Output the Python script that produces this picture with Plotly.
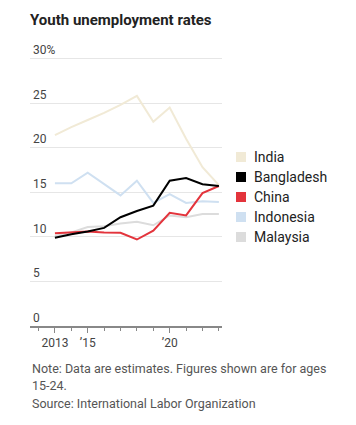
import plotly.graph_objects as go

years = list(range(2013, 2024))
india = [21.4, 22.3, 23.1, 23.9, 24.8, 25.8, 22.9, 24.5, 21.0, 17.8, 15.8]
bangladesh = [9.9, 10.3, 10.6, 11.0, 12.2, 12.9, 13.5, 16.3, 16.6, 15.9, 15.7]
china = [10.4, 10.5, 10.6, 10.5, 10.45, 9.7, 10.7, 12.7, 12.4, 14.9, 15.7]
indonesia = [16.0, 16.0, 17.2, 15.9, 14.65, 16.3, 13.8, 14.8, 13.8, 14.0, 13.9]
malaysia = [10.1, 10.5, 11.1, 11.2, 11.5, 11.7, 11.3, 12.4, 12.2, 12.55, 12.55]

series_names = ["India", "Bangladesh", "China", "Indonesia", "Malaysia"]
series_values = [india, bangladesh, china, indonesia, malaysia]
colors = ["#f1ead6", "#000000", "#e3343c", "#cfe0f1", "#dcdcdc"]
draw_order = ["Malaysia", "Indonesia", "India", "China", "Bangladesh"]

ytick_vals = [0, 5, 10, 15, 20, 25, 30]
ytick_text = ["0", "5", "10", "15", "20", "25", "30%"]
xtick_vals = [2013, 2015, 2020]
xtick_text = ["2013", "\u201915", "\u201920"]

note_lines = ["Note: Data are estimates. Figures shown are for ages",
              "15-24.",
              "Source: International Labor Organization"]

FONT = "Roboto"
W, H = 356, 425
ML, MR, MT, MB = 30, 134, 34, 99
plot_w = W - ML - MR
plot_h = H - MT - MB
px_per_unit = (H - MB - 58.5) / 30.0
y_top = plot_h / px_per_unit

fig = go.Figure()
lookup = dict(zip(series_names, zip(series_values, colors)))
for name in draw_order:
    vals, col = lookup[name]
    fig.add_trace(go.Scatter(x=years, y=vals, mode="lines", name=name,
                             line=dict(color=col, width=2), showlegend=False,
                             hoverinfo="skip"))

# legend built from annotations + keys
shapes = []
annotations = []
for i, (name, col) in enumerate(zip(series_names, colors)):
    cy_px = 157 + 20 * i
    yc = (H - MB - cy_px) / plot_h
    x0 = (236 - ML) / plot_w
    x1 = (246 - ML) / plot_w
    half = 5 / plot_h
    shapes.append(dict(type="rect", xref="paper", yref="paper", x0=x0, x1=x1,
                       y0=yc - half, y1=yc + half, fillcolor=col, line=dict(width=0)))
    annotations.append(dict(text=name, xref="paper", yref="paper",
                            x=(252 - ML) / plot_w, y=yc, xanchor="left", yanchor="middle",
                            showarrow=False, font=dict(family=FONT, size=14, color="#222")))

for j, line in enumerate(note_lines):
    cy_px = 368 + 17.5 * j
    annotations.append(dict(
        text=line, xref="paper", yref="paper", x=0, y=(H - MB - cy_px) / plot_h,
        xanchor="left", yanchor="middle", align="left", showarrow=False,
        font=dict(family=FONT, size=12.5, color="#555")))

fig.update_layout(
    width=W, height=H,
    margin=dict(l=ML, r=MR, t=MT, b=MB),
    paper_bgcolor="white", plot_bgcolor="white",
    title=dict(text="<b>Youth unemployment rates</b>", x=ML / W, xanchor="left",
               y=1 - 20 / H, yanchor="middle",
               font=dict(family=FONT, size=15, color="#222")),
    shapes=shapes, annotations=annotations, showlegend=False,
    xaxis=dict(range=[2011.48, 2023.19], tickvals=xtick_vals, ticktext=xtick_text,
               ticks="outside", ticklen=5, tickcolor="#888", tickwidth=1,
               ticklabeloverflow="allow",
               minor=dict(dtick=1, tick0=2013, ticks="outside", ticklen=3, tickcolor="#888", tickwidth=1),
               showgrid=False, zeroline=False, showline=True, linecolor="#888", linewidth=1.5,
               tickfont=dict(family=FONT, size=12, color="#444")),
    yaxis=dict(range=[0, y_top], tickvals=ytick_vals, ticktext=ytick_text,
               ticklabelposition="inside top", ticklabeloverflow="allow",
               showgrid=True, gridcolor="#e6e6e6", gridwidth=1,
               zeroline=False, showline=False, ticks="",
               tickfont=dict(family=FONT, size=12, color="#444")),
)

fig.write_html("out.html", config={"displayModeBar": False},
               post_script="document.body.style.margin='0px';")
